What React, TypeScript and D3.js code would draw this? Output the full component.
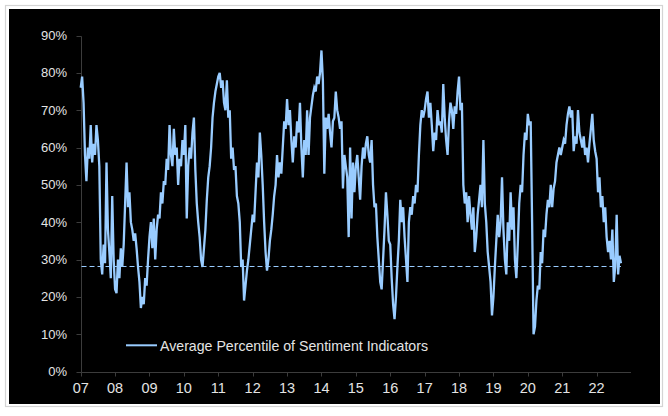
import React from "react";
import * as d3 from "d3";

// Average percentile of sentiment indicators, 24 readings per year from Jan 2007
const startYear = 2007;
const perYear = 24;
const sentiment: number[] = [
  // 2007
  76, 79, 72, 58, 51, 60, 57, 66, 56, 61, 58, 66, 62, 55, 30, 26, 34, 29, 56, 38, 32, 25, 47, 30,
  // 2008
  22, 21, 30, 25, 33, 28, 34, 45, 56, 44, 48, 40, 38, 35, 37, 33, 28, 24, 17, 20, 18, 25, 23, 30,
  // 2009
  36, 40, 33, 41, 30, 38, 42, 41, 48, 45, 51, 50, 57, 54, 66, 58, 55, 65, 58, 60, 50, 57, 55, 62,
  // 2010
  58, 66, 41, 55, 60, 57, 64, 68, 54, 45, 40, 36, 30, 28, 33, 38, 46, 52, 55, 60, 68, 72, 75, 77,
  // 2011
  79, 80, 76, 78, 72, 70, 78, 68, 70, 57, 60, 54, 55, 47, 45, 40, 28, 30, 19, 23, 27, 30, 34, 38,
  // 2012
  42, 40, 48, 56, 52, 64, 58, 50, 40, 32, 27, 30, 35, 38, 42, 47, 50, 58, 52, 56, 53, 60, 67, 65,
  // 2013
  73, 66, 70, 62, 56, 63, 60, 67, 64, 72, 60, 52, 62, 58, 70, 58, 68, 71, 74, 76, 75, 79, 77, 80,
  // 2014
  86, 78, 53, 68, 65, 69, 64, 60, 67, 68, 75, 70, 68, 65, 67, 49, 58, 55, 52, 36, 60, 41, 56, 48,
  // 2015
  55, 58, 52, 46, 55, 60, 57, 61, 63, 58, 56, 62, 50, 44, 45, 36, 30, 24, 22, 30, 38, 48, 42, 35,
  // 2016
  34, 25, 18, 14, 20, 28, 35, 46, 40, 44, 36, 30, 24, 40, 44, 42, 47, 45, 50, 48, 58, 66, 70, 68,
  // 2017
  70, 73, 75, 68, 72, 66, 59, 64, 62, 70, 66, 67, 64, 77, 68, 62, 58, 67, 72, 70, 65, 71, 69, 75,
  // 2018
  79, 70, 72, 50, 45, 48, 40, 47, 42, 38, 44, 32, 36, 42, 46, 50, 44, 62, 45, 40, 32, 28, 24, 15,
  // 2019
  20, 28, 35, 42, 36, 40, 52, 38, 30, 26, 40, 35, 48, 38, 44, 30, 25, 34, 45, 50, 48, 58, 64, 62,
  // 2020
  69, 66, 67, 40, 10, 12, 19, 23, 22, 32, 29, 38, 36, 42, 46, 44, 50, 44, 49, 51, 56, 58, 60, 58,
  // 2021
  60, 62, 61, 66, 69, 71, 68, 70, 59, 63, 61, 70, 64, 62, 60, 63, 58, 60, 56, 61, 65, 69, 62, 59,
  // 2022
  57, 48, 52, 44, 47, 40, 44, 36, 32, 35, 30, 38, 24, 28, 42, 26, 31, 29,
];

const yTicks = [0, 10, 20, 30, 40, 50, 60, 70, 80, 90];
const xTickYears = [2007, 2008, 2009, 2010, 2011, 2012, 2013, 2014, 2015, 2016, 2017, 2018, 2019, 2020, 2021, 2022];
const currentLevel = 28.3;
const seriesName = "Average Percentile of Sentiment Indicators";

const W = 668;
const H = 416;
const LINE = "#99ccff";
const TEXT = "#e4e4e4";
const AXIS = "#3c3c3c";

const crisp = (v: number) => Math.round(v) + 0.5;

export default function App() {
  const x = d3.scaleLinear().domain([2007, 2023]).range([80.7, 631]);
  const y = d3.scaleLinear().domain([0, 90]).range([371.5, 35.5]);

  const pts: [number, number][] = sentiment.map((v, i) => [startYear + i / perYear, v]);
  const line = d3
    .line<[number, number]>()
    .x((d) => x(d[0]))
    .y((d) => y(d[1]));

  const lastT = pts[pts.length - 1][0];
  const x0 = crisp(x(2007));
  const y0 = crisp(y(0));
  const yRef = crisp(y(currentLevel));

  return (
    <svg
      width={W}
      height={H}
      style={{ position: "absolute", left: 0, top: 0, background: "#ffffff" }}
      fontFamily="'Liberation Sans', Arial, sans-serif"
    >
      <rect x={5.5} y={5.5} width={657} height={401} fill="#ffffff" stroke="#d4d4d4" strokeWidth={1.2} />
      <rect x={9} y={9} width={651} height={395} fill="#000000" />

      {/* y axis */}
      <line x1={x0} x2={x0} y1={crisp(y(90))} y2={y0} stroke={AXIS} strokeWidth={1} />
      {yTicks.map((t) => (
        <g key={t}>
          <line x1={x0 - 5} x2={x0} y1={crisp(y(t))} y2={crisp(y(t))} stroke={AXIS} strokeWidth={1} />
          <text x={67} y={y(t)} dy="0.35em" textAnchor="end" fontSize={13} fill={TEXT}>
            {t + "%"}
          </text>
        </g>
      ))}

      {/* x axis */}
      <line x1={x0} x2={x(2023)} y1={y0} y2={y0} stroke={AXIS} strokeWidth={1} />
      {xTickYears.map((yr) => (
        <g key={yr}>
          <line x1={crisp(x(yr))} x2={crisp(x(yr))} y1={y0} y2={y0 + 4} stroke={AXIS} strokeWidth={1} />
          <text x={x(yr)} y={393} textAnchor="middle" fontSize={14.5} fill={TEXT}>
            {String(yr).slice(2)}
          </text>
        </g>
      ))}

      {/* current level reference */}
      <line
        x1={x0}
        x2={x(lastT)}
        y1={yRef}
        y2={yRef}
        stroke={LINE}
        strokeWidth={1}
        strokeDasharray="5,3"
      />

      <path d={line(pts) ?? ""} fill="none" stroke={LINE} strokeWidth={2.3} strokeLinejoin="miter" />

      {/* legend */}
      <line x1={126} x2={157} y1={345.3} y2={345.3} stroke={LINE} strokeWidth={2} />
      <text x={160} y={350.5} fontSize={15} fill={TEXT} textLength={268} lengthAdjust="spacingAndGlyphs">
        {seriesName}
      </text>
    </svg>
  );
}
